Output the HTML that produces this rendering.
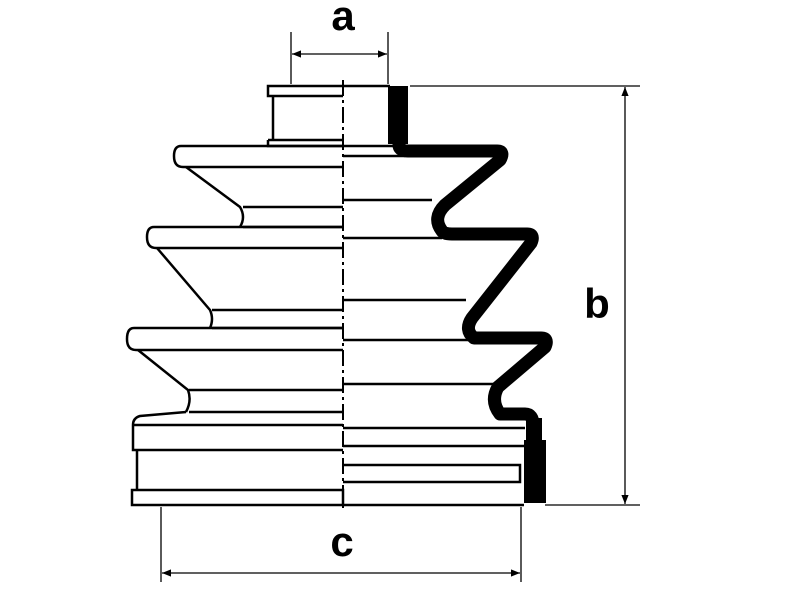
<!DOCTYPE html>
<html><head><style>body{margin:0;background:#fff}svg{display:block}</style></head><body>
<svg width="800" height="600" viewBox="0 0 800 600" xmlns="http://www.w3.org/2000/svg">
<defs>
<marker id="ar" viewBox="0 0 10 10" refX="10" refY="5" markerWidth="9" markerHeight="9" orient="auto-start-reverse" markerUnits="userSpaceOnUse"><path d="M0,1 L10,5 L0,9 z" fill="#000"/></marker>
</defs>
<g fill="none" stroke="#000" stroke-width="2">
<line x1="291" y1="32" x2="291" y2="84" stroke-width="1.3"/>
<line x1="388" y1="32" x2="388" y2="84" stroke-width="1.3"/>
<line x1="292" y1="54" x2="387" y2="54" stroke-width="1.3" marker-start="url(#ar)" marker-end="url(#ar)"/>
<line x1="410" y1="86" x2="640" y2="86" stroke-width="1.3"/>
<line x1="545" y1="505" x2="640" y2="505" stroke-width="1.3"/>
<line x1="625" y1="87" x2="625" y2="504" stroke-width="1.3" marker-start="url(#ar)" marker-end="url(#ar)"/>
<line x1="161" y1="507" x2="161" y2="582" stroke-width="1.3"/>
<line x1="521" y1="507" x2="521" y2="582" stroke-width="1.3"/>
<line x1="162" y1="573" x2="520" y2="573" stroke-width="1.3" marker-start="url(#ar)" marker-end="url(#ar)"/>
<line x1="343" y1="80" x2="343" y2="512" stroke-width="2" stroke-dasharray="16,4,3,4"/>

<g stroke-width="2.5">
<path d="M343,86 H268 V96 H343 M273,96 V140 M268,140 V146 H343 M268,140 H343"/>
<path d="M343,146 H181 Q174,146 174,156 Q174,167 183,167 H343"/>
<path d="M186,167 L240,207 Q246,217 240,227 M243,207 H343 M243,227 H343"/>
<path d="M343,227 H154 Q147,227 147,237 Q147,248 156,248 H343"/>
<path d="M157,248 L210,310 Q214,319 210,328 M212,310 H343 M212,328 H343"/>
<path d="M343,328 H134 Q127,328 127,339 Q127,350 136,350 H343"/>
<path d="M138,350 L188,390 Q192,401 186,412 M189,390 H343 M189,412 H343"/>
<path d="M186,412 L140,416 Q133,418 133,425 H343 M133,425 V450 H343 M137,450 V490 M132,490 H343 V505 H132 Z"/>
</g>

<g stroke-width="2.5">
<path d="M343,146 H400 M343,156 H405 M343,200 H432 M343,238 H442 M343,300 H466 M343,340 H472 M343,384 H496 M343,428 H525 M343,446 H525 M343,465 H520 V482 H343 M343,505 H524"/>
<path d="M343,86 H390"/>
</g>
<path d="M399,86 V146 Q400,151 408,151 H497 Q505,151 500,160 L445,205 Q432,218 442,231 Q444,234 452,234 H527 Q535,234 531,243 L472,318 Q464,330 474,338 H541 Q549,338 545,347 L498,387 Q490,401 500,414 H525 Q533,414 533,425 V500" stroke-width="13" stroke-linejoin="round"/>
</g>
<rect x="388" y="86" width="20" height="58" fill="#000"/>
<rect x="524" y="440" width="22" height="63" fill="#000"/>
<rect x="526" y="418" width="16" height="30" fill="#000"/>
<g font-family="Liberation Sans, sans-serif" font-weight="bold" font-size="42" text-anchor="middle" fill="#000">
<text x="343" y="30">a</text>
<text x="597" y="318">b</text>
<text x="342" y="556">c</text>
</g>
</svg>
</body></html>
